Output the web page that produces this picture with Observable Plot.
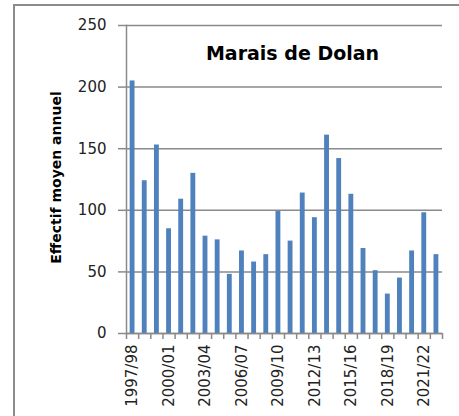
<!DOCTYPE html>
<html><head><meta charset="utf-8">
<script src="https://cdn.jsdelivr.net/npm/d3@7"></script>
<script src="https://cdn.jsdelivr.net/npm/@observablehq/plot@0.6"></script>
<style>
html,body{margin:0;padding:0;background:#fff;overflow:hidden;width:459px;height:416px}
#frame{position:absolute;left:13px;top:4px;width:500px;height:500px;border:2px solid #8c8c8c;box-sizing:border-box}
#chart{position:absolute;left:0;top:0}
</style></head><body>
<div id="frame"></div><div id="chart"></div>
<script>
const seasons = ["1997/98","1998/99","1999/00","2000/01","2001/02","2002/03","2003/04","2004/05","2005/06","2006/07","2007/08","2008/09","2009/10","2010/11","2011/12","2012/13","2013/14","2014/15","2015/16","2016/17","2017/18","2018/19","2019/20","2020/21","2021/22","2022/23"];
const values = [205,124,153,85,109,130,79,76,48,67,58,64,99,75,114,94,161,142,113,69,51,32,45,67,98,64];
const yTicks = [0,50,100,150,200,250];
const labeledSeasons = ["1997/98","2000/01","2003/04","2006/07","2009/10","2012/13","2015/16","2018/19","2021/22"];
const title = "Marais de Dolan";
const yLabel = "Effectif moyen annuel";

const data = seasons.map((s,i)=>({season:s, value:values[i]}));
const W=459,H=416,mL=126,mR=17,mT=25,mB=83;
const step=(W-mL-mR)/seasons.length;
const gray="#8a8a8a";
const chart = Plot.plot({
  width:W,height:H,marginLeft:mL,marginRight:mR,marginTop:mT,marginBottom:mB,
  style:{fontFamily:"'DejaVu Sans',sans-serif",fontSize:"15px",color:"#222",background:"transparent"},
  x:{domain:seasons,paddingInner:0.6,paddingOuter:0.3,round:false,label:null},
  y:{domain:[0,250],label:null},
  marks:[
    Plot.ruleY(yTicks,{stroke:gray,strokeWidth:1.5}),
    Plot.axisY({ticks:yTicks,tickSize:8,tickPadding:12,stroke:gray,strokeWidth:1.5,strokeOpacity:1,fontSize:15,label:null,tickFormat:d=>d}),
    Plot.frame({anchor:"left",stroke:gray,strokeWidth:1.5}),
    Plot.barY(data,{x:"season",y:"value",fill:"#4f81bd"}),
    Plot.ruleY([0],{stroke:gray,strokeWidth:1.5}),
    Plot.axisX({ticks:seasons,tickSize:6,text:null,dx:-step/2,stroke:gray,strokeWidth:1.5,label:null}),
    Plot.axisX({ticks:seasons.slice(-1),tickSize:6,text:null,dx:step/2,stroke:gray,strokeWidth:1.5,label:null}),
    Plot.axisX({ticks:labeledSeasons,tickSize:0,tickPadding:11,tickRotate:-90,fontSize:15,label:null}),
    Plot.text([title],{frameAnchor:"top",dx:8,dy:21,lineAnchor:"top",fontWeight:"bold",fontSize:19,fill:"#000"}),
    Plot.text([yLabel],{frameAnchor:"left",rotate:-90,textAnchor:"middle",dx:-70,dy:-2,fontWeight:"bold",fontSize:14,fill:"#000"})
  ]
});
document.getElementById("chart").append(chart);
</script>
</body></html>
